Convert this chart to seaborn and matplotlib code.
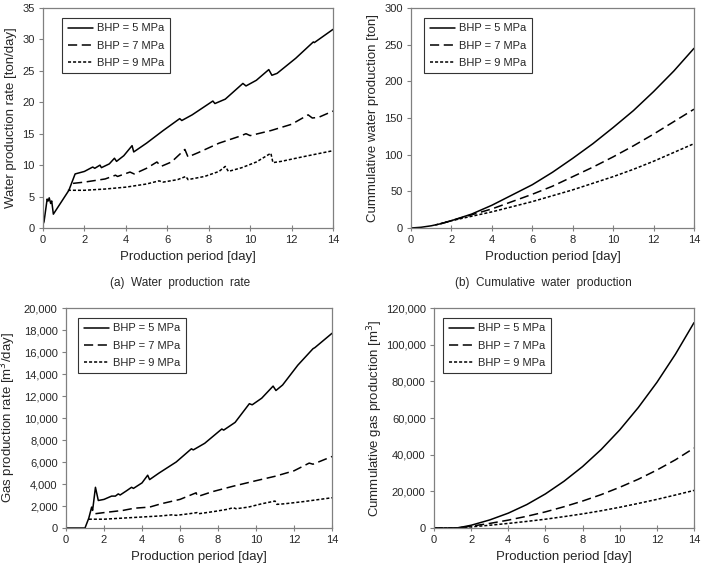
import matplotlib
matplotlib.use("Agg")
import matplotlib.pyplot as plt
import seaborn as sns
from matplotlib.ticker import FuncFormatter, MultipleLocator

# ---------------- data ----------------
series_labels = ["BHP = 5 MPa", "BHP = 7 MPa", "BHP = 9 MPa"]

# (a) water production rate [ton/day]
wr_x5 = [0.0, 0.05, 0.2, 0.25, 0.3, 0.37, 0.42, 0.5, 1.25, 1.55, 2.0, 2.4, 2.5, 2.75, 2.82,
         3.2, 3.45, 3.55, 3.9, 4.3, 4.38, 5.0, 5.8, 6.6, 6.7, 7.2, 8.2, 8.3, 8.8, 9.65, 9.8,
         10.3, 10.9, 11.05, 11.3, 12.2, 13.05, 13.1, 14.0]
wr_y5 = [0.6, 1.0, 4.6, 4.3, 4.8, 3.9, 4.3, 2.2, 6.0, 8.6, 9.0, 9.7, 9.5, 10.0, 9.6,
         10.2, 11.1, 10.6, 11.5, 13.1, 12.1, 13.5, 15.5, 17.4, 17.1, 18.0, 20.2, 19.8, 20.5, 23.0, 22.6,
         23.5, 25.2, 24.3, 24.6, 27.0, 29.6, 29.5, 31.6]
wr_x7 = [1.45, 2.0, 3.0, 3.5, 3.6, 4.2, 4.4, 5.0, 5.5, 5.7, 6.2, 6.85, 7.0, 7.5, 8.5, 9.5,
         9.8, 10.0, 11.0, 12.0, 12.8, 13.0, 13.3, 14.0]
wr_y7 = [7.1, 7.3, 7.8, 8.4, 8.2, 8.9, 8.6, 9.5, 10.5, 9.8, 10.5, 12.5, 11.3, 12.0, 13.5, 14.6,
         15.0, 14.7, 15.5, 16.5, 18.0, 17.5, 17.6, 18.6]
wr_x9 = [1.2, 2.0, 3.0, 4.0, 5.0, 5.6, 5.8, 6.5, 6.9, 7.0, 7.8, 8.5, 8.8, 8.95, 9.6, 10.3,
         11.0, 11.1, 11.5, 12.5, 14.0]
wr_y9 = [6.0, 6.0, 6.2, 6.5, 7.0, 7.5, 7.3, 7.7, 8.2, 7.7, 8.2, 9.0, 9.8, 9.0, 9.6, 10.5,
         11.9, 10.4, 10.6, 11.3, 12.3]

# (b) cumulative water production [ton]
cw_x5 = [0, 0.5, 1, 1.5, 2, 3, 4, 5, 6, 7, 8, 9, 10, 11, 12, 13, 14]
cw_y5 = [0, 1, 3, 6, 10, 19, 31, 45, 59, 76, 95, 115, 137, 160, 186, 214, 245]
cw_x7 = [1.5, 2, 3, 4, 5, 6, 7, 8, 9, 10, 11, 12, 13, 14]
cw_y7 = [6, 10, 18, 26, 36, 46, 57, 70, 83, 97, 112, 128, 145, 162]
cw_x9 = [1.2, 2, 3, 4, 5, 6, 7, 8, 9, 10, 11, 12, 13, 14]
cw_y9 = [4, 10, 16, 22, 29, 36, 44, 52, 61, 70, 80, 91, 103, 115]

# (c) gas production rate [m3/day]
gr_x5 = [0, 1.0, 1.2, 1.35, 1.4, 1.55, 1.7, 2.0, 2.4, 2.6, 2.75, 2.85, 3.2, 3.45, 3.55, 4.0,
         4.3, 4.4, 4.9, 5.8, 6.6, 6.7, 7.3, 8.2, 8.3, 8.9, 9.65, 9.8, 10.3, 10.9, 11.05, 11.4,
         12.2, 13.0, 13.1, 14.0]
gr_y5 = [0, 0, 900, 1900, 1600, 3700, 2500, 2600, 2900, 2900, 3100, 3000, 3400, 3700, 3600, 4100,
         4800, 4400, 5000, 6000, 7200, 7100, 7700, 9000, 8900, 9600, 11300, 11200, 11800, 12900, 12500, 13000,
         14800, 16300, 16400, 17700]
gr_x7 = [1.55, 2.0, 3.0, 3.6, 4.4, 5.0, 6.0, 6.85, 6.9, 7.0, 7.7, 8.8, 10.0, 11.0, 12.0, 12.8, 13.0, 14.0]
gr_y7 = [1300, 1400, 1600, 1800, 1900, 2200, 2600, 3200, 2900, 2900, 3300, 3800, 4300, 4700, 5200, 5900, 5800, 6500]
gr_x9 = [1.2, 2.0, 3.0, 4.0, 5.0, 5.6, 5.8, 6.5, 6.9, 7.0, 7.8, 8.5, 8.8, 8.95, 9.6, 10.3,
         11.0, 11.1, 11.5, 12.5, 14.0]
gr_y9 = [800, 800, 900, 1000, 1100, 1200, 1150, 1300, 1400, 1300, 1500, 1700, 1850, 1750, 1900, 2200,
         2450, 2150, 2200, 2400, 2750]

# (d) cumulative gas production [m3]
cg_x = [0, 1.2, 1.5, 2, 3, 4, 5, 6, 7, 8, 9, 10, 11, 12, 13, 14]
cg_y5 = [0, 0, 500, 1500, 4400, 8100, 12800, 18600, 25500, 33500, 42800, 53500, 65700, 79400, 94800, 112000]
cg_y7 = [0, 0, 300, 1000, 2500, 4300, 6400, 8800, 11600, 14700, 18200, 22200, 26600, 31600, 37200, 43600]
cg_y9 = [0, 0, 300, 600, 1500, 2500, 3600, 4800, 6200, 7700, 9400, 11300, 13400, 15600, 18000, 20500]

# ---------------- style ----------------
sns.set_style("white")
plt.rcParams["font.family"] = ["Liberation Sans", "DejaVu Sans"]

W, H = 705, 564
fig = plt.figure(figsize=(W / 100, H / 100), dpi=100)


def px_axes(l, t, r, b):
    return fig.add_axes([l / W, 1 - b / H, (r - l) / W, (b - t) / H])


ax_a = px_axes(43, 8, 333, 228)
ax_b = px_axes(411, 8, 694, 228)
ax_c = px_axes(66, 308, 332, 528)
ax_d = px_axes(434, 308, 694, 528)

linestyles = ["-", (0, (6, 3)), (0, (2, 1.3))]
frame_col = "#808080"


def draw(ax, xs, ys, ymax, ystep, ylabel, leg_left, ylab_x, comma=False):
    for x, y, lab, ls in zip(xs, ys, series_labels, linestyles):
        sns.lineplot(x=x, y=y, ax=ax, color="black", lw=1.1, linestyle=ls,
                     label=lab, estimator=None)
    ax.set_xlim(0, 14)
    ax.set_ylim(0, ymax)
    ax.xaxis.set_major_locator(MultipleLocator(2))
    ax.yaxis.set_major_locator(MultipleLocator(ystep))
    if comma:
        ax.yaxis.set_major_formatter(FuncFormatter(lambda v, p: f"{v:,.0f}"))
    for s in ax.spines.values():
        s.set_color(frame_col)
        s.set_linewidth(0.9)
        s.set_visible(True)
    ax.tick_params(axis="y", direction="out", length=3, width=0.8, color=frame_col,
                   labelsize=8, pad=3, left=True)
    ax.tick_params(axis="x", direction="inout", length=4, width=0.8, color=frame_col,
                   labelsize=8, pad=3, bottom=True)
    ax.set_xlabel("Production period [day]", fontsize=9.5)
    ax.xaxis.set_label_coords(0.5, -0.105)
    ax.set_ylabel(ylabel, fontsize=9.5)
    ax.yaxis.set_label_coords(ylab_x, 0.5)
    leg = ax.legend(loc="upper left", bbox_to_anchor=(leg_left, 0.955), borderaxespad=0,
                    frameon=True, fancybox=False, edgecolor="#333333", framealpha=1,
                    fontsize=8, handlelength=2.3, handletextpad=0.35,
                    labelspacing=0.65, borderpad=0.5)
    leg.get_frame().set_linewidth(0.8)


draw(ax_a, [wr_x5, wr_x7, wr_x9], [wr_y5, wr_y7, wr_y9], 35, 5,
     "Water production rate [ton/day]", 0.066, -0.09)
draw(ax_b, [cw_x5, cw_x7, cw_x9], [cw_y5, cw_y7, cw_y9], 300, 50,
     "Cummulative water production [ton]", 0.046, -0.113)
draw(ax_c, [gr_x5, gr_x7, gr_x9], [gr_y5, gr_y7, gr_y9], 20000, 2000,
     "Gas production rate [m$^3$/day]", 0.045, -0.18, comma=True)
draw(ax_d, [cg_x, cg_x, cg_x], [cg_y5, cg_y7, cg_y9], 120000, 20000,
     "Cummulative gas production [m$^3$]", 0.035, -0.188, comma=True)

fig.text(180 / W, 1 - 283 / H, "(a)  Water  production  rate", ha="center", va="center", fontsize=8.5)
fig.text(543 / W, 1 - 283 / H, "(b)  Cumulative  water  production", ha="center", va="center", fontsize=8.5)

fig.savefig("out.png", dpi=100)
